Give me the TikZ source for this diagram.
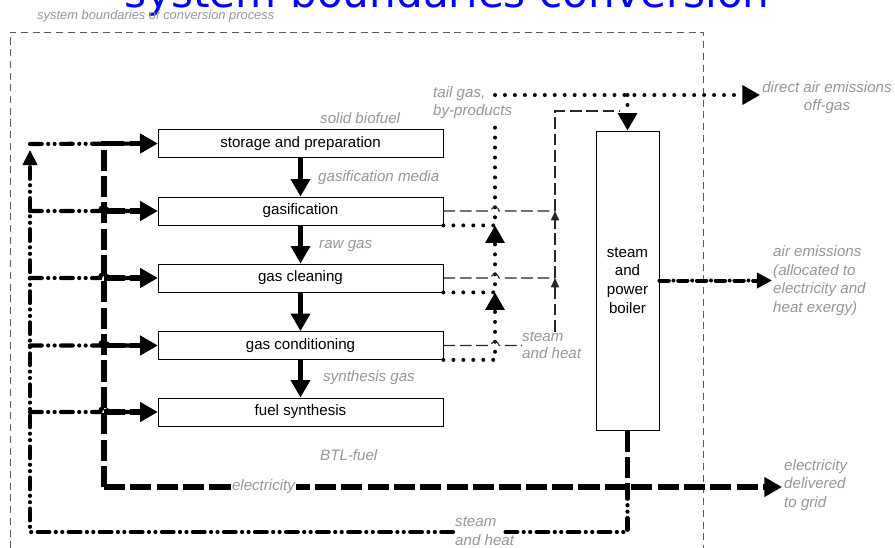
\documentclass[tikz,border=0pt]{standalone}
\usepackage{fontspec}
\setmainfont{Liberation Sans}
\newfontfamily\titlefont{DejaVu Sans}
\usetikzlibrary{arrows.meta, calc}

\definecolor{labelgray}{RGB}{150,150,150}
\definecolor{framegray}{RGB}{90,90,90}
\definecolor{titleblue}{RGB}{0,0,255}

\tikzset{
  procbox/.style={draw, line width=0.7pt, minimum width=8.55cm, minimum height=0.84cm, inner sep=0pt, font=\fontsize{12.9pt}{16pt}\selectfont},
  flowlabel/.style={text=labelgray, inner sep=0pt, align=left, font=\fontsize{12.9pt}{16pt}\selectfont\itshape},
  bigtip/.style={-{Triangle[length=15pt,width=16pt]}},
  smalltip/.style={-{Triangle[length=8pt,width=7pt]}},
  mainflow/.style={line width=4pt, bigtip},
  gasline/.style={line width=3.4pt, line cap=round, dash pattern=on 0pt off 8.5pt},
  heatline/.style={draw=black!85, line width=0.9pt, dash pattern=on 10pt off 4pt},
  steamline/.style={line width=3.6pt, line cap=round, dash pattern=on 10pt off 5.5pt on 0pt off 5.5pt on 0pt off 5.5pt},
  elecline/.style={line width=5pt, dash pattern=on 18pt off 4.5pt},
  airline/.style={line width=3.4pt, line cap=round, dash pattern=on 8pt off 4pt on 0pt off 4pt},
  boundary/.style={draw=framegray, line width=0.7pt, dash pattern=on 6pt off 4pt},
}

\begin{document}
\begin{tikzpicture}[x=0.03cm, y=-0.03cm]
  \clip (0,0) rectangle (895,547);
  \fill[white] (0,0) rectangle (895,547);

  % titles
  \node[anchor=base, inner sep=0pt, text=titleblue, font=\titlefont\fontsize{36pt}{36pt}\selectfont] (title) at (447,7) {system boundaries conversion};
  \node[flowlabel, anchor=west, font=\fontsize{11pt}{13pt}\selectfont\itshape] (sysbound) at (37,16) {system boundaries of conversion process};

  % system boundary
  \draw[boundary] (10,560) -- (10,32) -- (703,32) -- (703,560);

  % process chain
  \node[procbox] (stor) at (300.5,143.5) {storage and preparation};
  \node[procbox] (gasi) at (300.5,211) {gasification};
  \node[procbox] (clean) at (300.5,278) {gas cleaning};
  \node[procbox] (cond) at (300.5,345.5) {gas conditioning};
  \node[procbox] (synth) at (300.5,412) {fuel synthesis};
  \node[procbox, minimum width=1.89cm, minimum height=8.97cm, align=center] (boiler) at (627.5,280.5) {steam\\and\\power\\boiler};

  \foreach \a/\b in {stor/gasi, gasi/clean, clean/cond, cond/synth}
    \draw[mainflow] (\a.south) -- (\b.north);

  % labels
  \node[flowlabel, anchor=west] (solid) at (320,118) {solid biofuel};
  \node[flowlabel, anchor=west] (media) at (318,178) {gasification media};
  \node[flowlabel, anchor=west] (rawgas) at (319,246) {raw gas};
  \node[flowlabel, anchor=west] (syngas) at (323,378) {synthesis gas};
  \node[flowlabel, anchor=west] (btl) at (320,455) {BTL-fuel};
  \node[flowlabel, anchor=west] (tail) at (433,102.5) {tail gas,\\by-products};
  \node[flowlabel, anchor=west, font=\fontsize{12.9pt}{14.5pt}\selectfont\itshape] (heatlab) at (522,345.5) {steam\\and heat};
  \node[flowlabel, align=center] (offlab) at (827,97.5) {direct air emissions\\off-gas};
  \node[flowlabel, anchor=west] (airlab) at (773,280.5) {air emissions\\(allocated to\\electricity and\\heat exergy)};
  \node[flowlabel, anchor=west] (gridlab) at (784,485) {electricity\\delivered\\to grid};
  \node[flowlabel, anchor=west] (steamlab) at (455,531) {steam\\and heat};

  \coordinate (tg) at (495,95);
  \coordinate (offgas) at (760,95);
  \coordinate (sh) at (555,111);
  \coordinate (shin) at (620,111);
  \coordinate (ebus) at (104,487);
  \coordinate (egrid) at (782,487);
  \coordinate (sbus) at (30,532);
  \coordinate (stop) at (30,144);
  \coordinate (airout) at (772,280.5);

  % tail gas, by-products
  \draw[gasline] (gasi.south east) -- (gasi.south east -| tg) -- (tail.south -| tg);
  \draw[gasline, bigtip] (clean.south east) -- (clean.south east -| tg) -- (gasi.south east -| tg);
  \draw[gasline, bigtip] (cond.south east) -- (cond.south east -| tg) -- (clean.south east -| tg);
  \draw[gasline, bigtip] (tg) -- (offgas);
  \draw[gasline, bigtip] (tg -| boiler) -- (boiler.north);

  % process steam and heat
  \foreach \b in {gasi, clean}
    \draw[heatline] (\b.east) -- ($(\b.east -| tg)+(-4,0)$) arc[start angle=180, end angle=0, radius=3.4pt] -- (\b.east -| sh);
  \draw[heatline] (cond.east) -- ($(cond.east -| tg)+(-4,0)$) arc[start angle=180, end angle=0, radius=3.4pt] -- (heatlab.west);
  \draw[heatline, smalltip] (heatlab.north -| sh) -- (clean.east -| sh);
  \draw[heatline, smalltip] (clean.east -| sh) -- (gasi.east -| sh);
  \draw[heatline] (gasi.east -| sh) -- (sh) -- (shin);

  % electricity
  \draw[elecline, bigtip] (ebus) -- (ebus |- stor.west) -- (stor.west);
  \foreach \b in {gasi, clean, cond, synth}
    \draw[elecline, bigtip] (ebus |- \b.west) -- (\b.west);
  \draw[elecline, bigtip] (ebus) -- (egrid);
  \draw[elecline] (boiler.south) -- (boiler.south |- ebus);
  \node[flowlabel, fill=white, inner xsep=1pt] (eleclab) at (263.5,487) {electricity};

  % steam and heat supply
  \draw[steamline] (boiler.south |- ebus) -- (boiler.south |- sbus) -- ($(steamlab.west |- sbus)+(47,0)$);
  \draw[steamline, -{Triangle[length=13pt,width=12pt]}, shorten >=5pt] ($(steamlab.west |- sbus)+(-2,0)$) -- (sbus) -- (stop);
  \draw[steamline, bigtip] (stop) -- (stor.west);
  \foreach \b in {gasi, clean, cond, synth}
    \draw[steamline, bigtip] (stop |- \b.west) -- ($(ebus |- \b.west)+(-4,0)$) arc[start angle=180, end angle=0, radius=3.4pt] -- (\b.west);

  % air emissions
  \draw[airline, -{Triangle[length=13pt,width=13pt]}] (boiler.east) -- (airout);
\end{tikzpicture}
\end{document}
